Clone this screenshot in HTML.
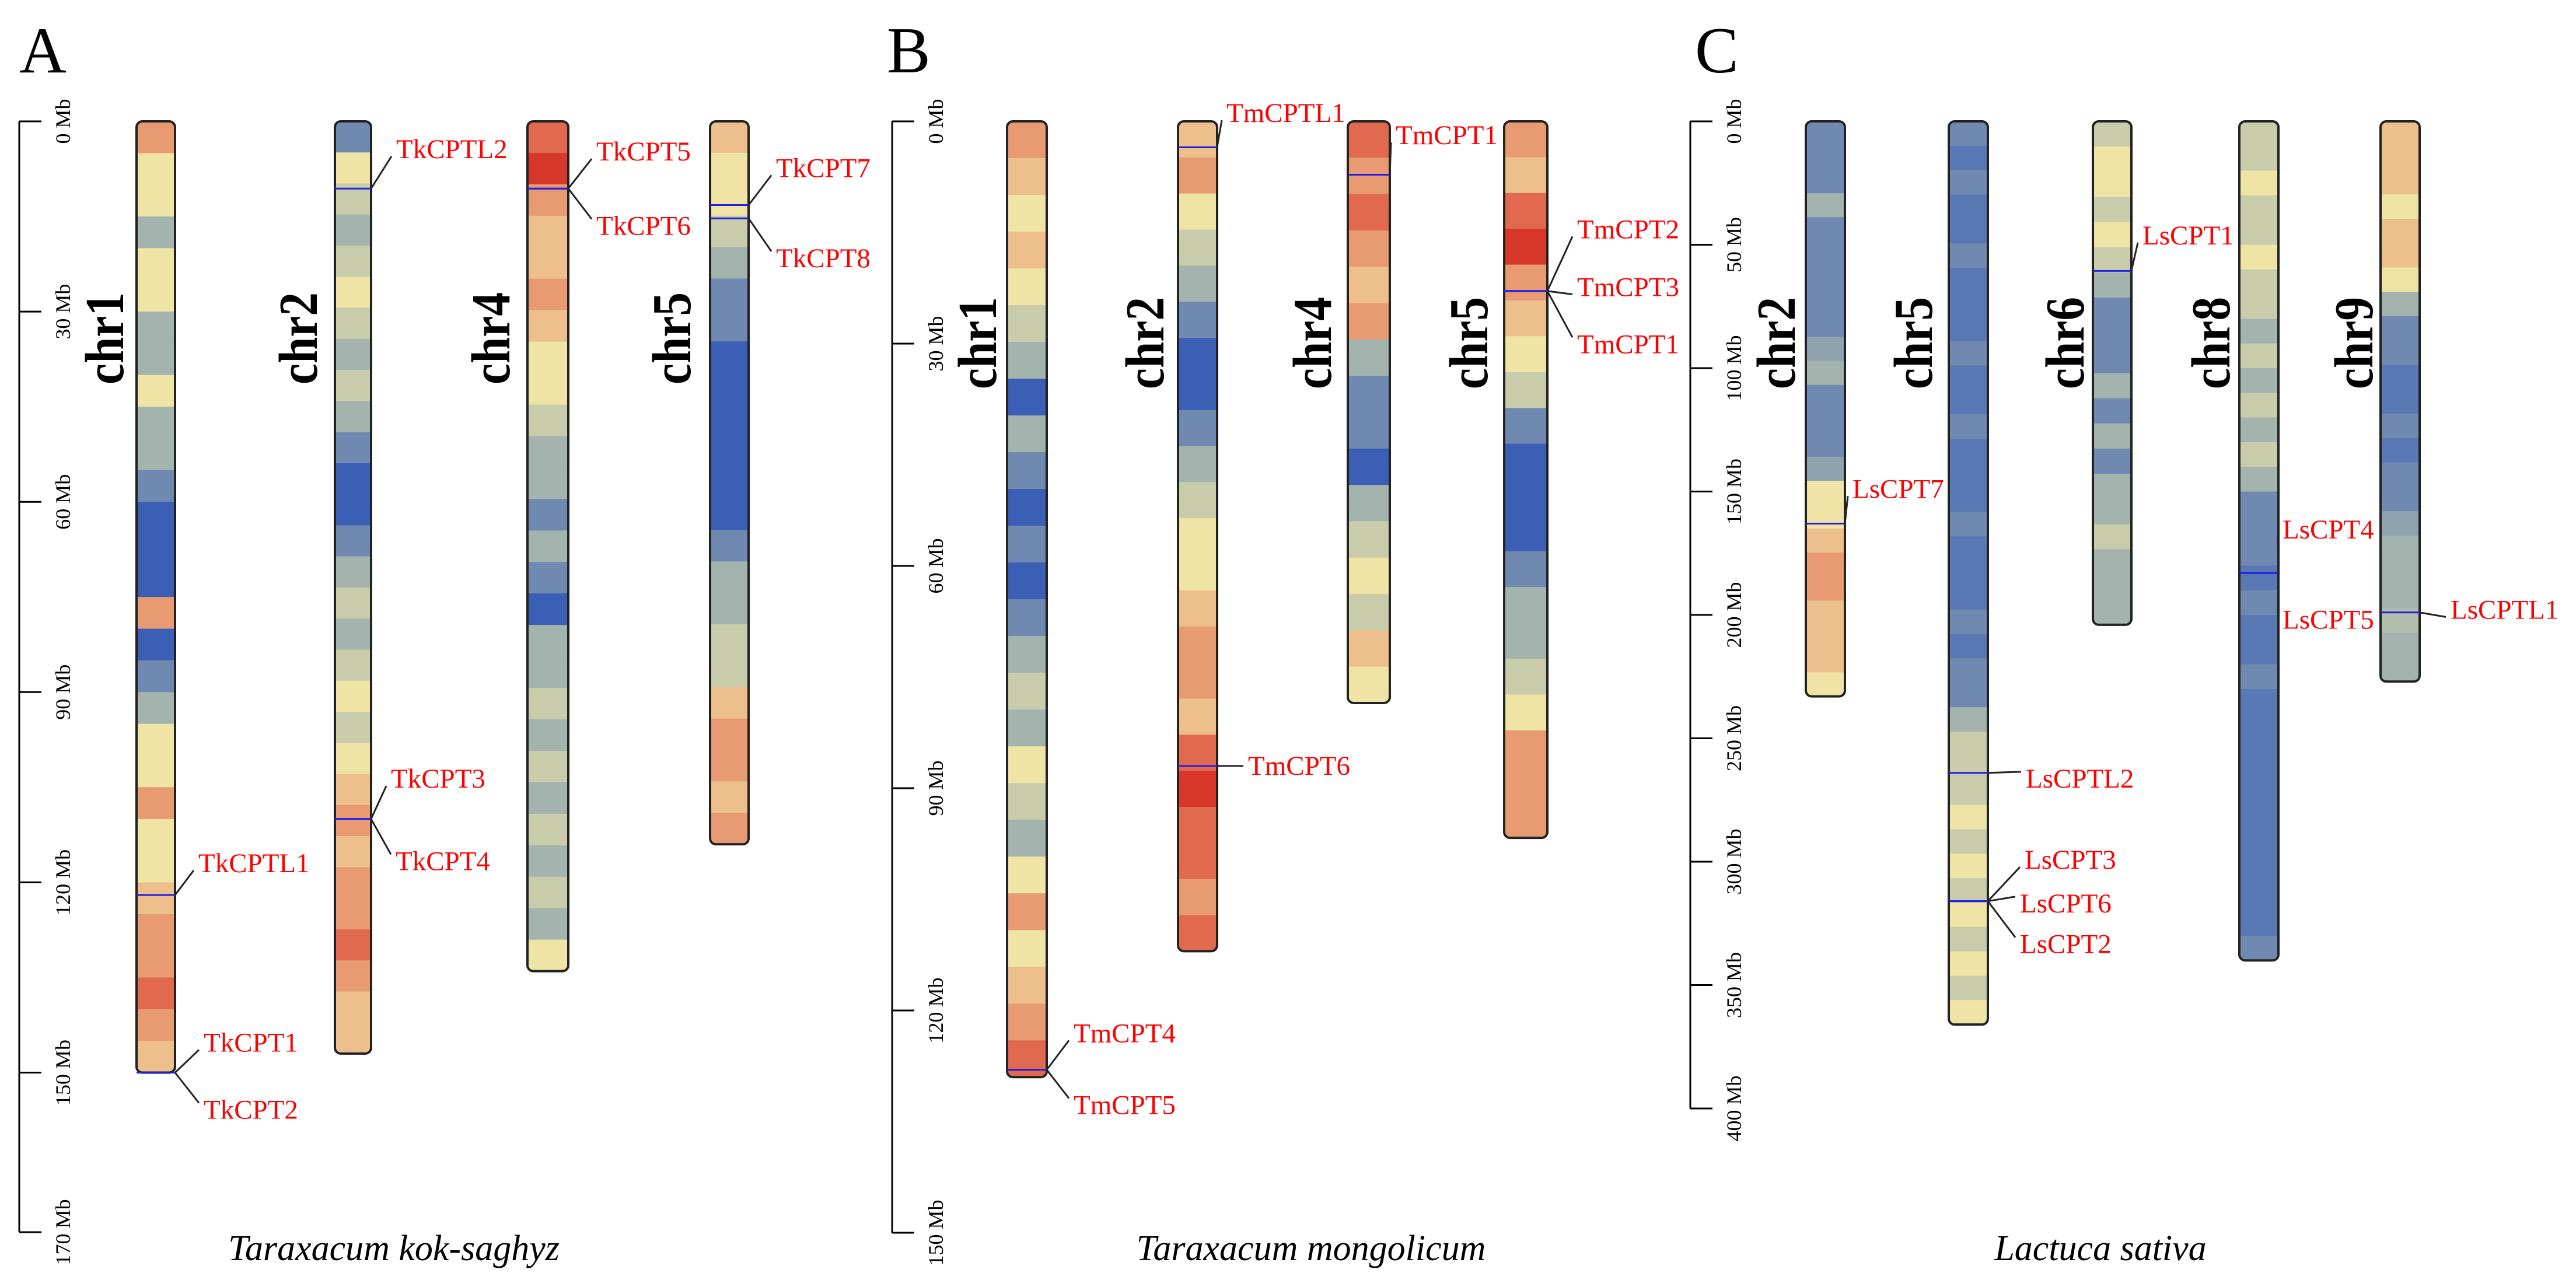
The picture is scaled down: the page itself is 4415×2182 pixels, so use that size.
<!DOCTYPE html>
<html><head><meta charset="utf-8"><style>
html,body{margin:0;padding:0;background:#fff;}
svg{display:block;font-family:"Liberation Serif",serif;}
</style></head><body>
<svg id="fig" width="4415" height="2182" viewBox="0 0 4415 2182" xmlns="http://www.w3.org/2000/svg"></svg>
<script>
// ---------- DATA ----------
const panelNames = ["A","B","C"];
const speciesNames = ["Taraxacum kok-saghyz","Taraxacum mongolicum","Lactuca sativa"];
const tickLabelsA = ["0 Mb","30 Mb","60 Mb","90 Mb","120 Mb","150 Mb","170 Mb"];
const tickValuesA = [0,30,60,90,120,150,170];
const tickLabelsB = ["0 Mb","30 Mb","60 Mb","90 Mb","120 Mb","150 Mb"];
const tickValuesB = [0,30,60,90,120,150];
const tickLabelsC = ["0 Mb","50 Mb","100 Mb","150 Mb","200 Mb","250 Mb","300 Mb","350 Mb","400 Mb"];
const tickValuesC = [0,50,100,150,200,250,300,350,400];

const chrNamesA = ["chr1","chr2","chr4","chr5"];
const chrLengthsA = [150,147,134,114];
const chrNamesB = ["chr1","chr2","chr4","chr5"];
const chrLengthsB = [129,112,78.5,96.7];
const chrNamesC = ["chr2","chr5","chr6","chr8","chr9"];
const chrLengthsC = [233,366,204,340,227];

// gene density (0 = low/blue ... 4 = high/red), equal bins along each chromosome
const densA_chr1 = [3,2,2,1,2,2,1,1,2,1,1,0.5,0,0,0,3,0,0.5,1,2,2,3,2,2,2.5,3,3,3.5,3,2.5];
const densA_chr2 = [0.5,2,1.5,1,1.5,2,1.5,1,1.5,1,0.5,0,0,0.5,1,1.5,1,1.5,2,1.5,2,2.5,3,2.5,3,3,3.5,3,2.5,2.5];
const densA_chr4 = [3.5,4,3,2.5,2.5,3,2.5,2,2,1.5,1,1,0.5,1,0.5,0,1,1,1.5,1,1.5,1,1.5,1,1.5,1,2];
const densA_chr5 = [2.5,2,2,1.5,1,0.5,0.5,0,0,0,0,0,0,0.5,1,1,1.5,1.5,2.5,3,3,2.5,3];
const densB_chr1 = [3,2.5,2,2.5,2,1.5,1,0,1,0.5,0,0.5,0,0.5,1,1.5,1,2,1.5,1,2,3,2,2.5,3,3.5];
const densB_chr2 = [2.5,3,2,1.5,1,0.5,0,0,0.5,1,1.5,2,2,2.5,3,3,2.5,3.5,4,3.5,3.5,3,3.5];
const densB_chr4 = [3.5,3,3.5,3,2.5,3,1,0.5,0.5,0,1,1.5,2,1.5,2.5,2];
const densB_chr5 = [3,2.5,3.5,4,3,2.5,2,1.5,0.5,0,0,0,0.5,1,1,1.5,2,3,3,3];
const densC_chr2 = [0.5,0.5,0.5,1,0.5,0.5,0.5,0.5,0.5,0.8,1,0.5,0.5,0.5,0.8,2,2,2.5,3,3,2.5,2.5,2.5,2];
const densC_chr5 = [0.5,0.3,0.5,0.3,0.3,0.5,0.3,0.3,0.3,0.5,0.3,0.3,0.5,0.3,0.3,0.3,0.5,0.3,0.3,0.3,0.5,0.3,0.5,0.5,1,1.5,1.5,1.5,2,1.5,2,1.5,2,1.5,2,1.5,2];
const densC_chr6 = [1.5,2,2,1.5,2,1.5,1,0.5,0.5,0.5,1,0.5,1,0.5,1,1,1.5,1,1,1];
const densC_chr8 = [1.5,1.5,2,1.5,1.5,2,1.5,1.5,1,1.5,1,1.5,1,1.5,1,0.5,0.5,0.5,0.3,0.5,0.3,0.3,0.5,0.3,0.3,0.3,0.3,0.3,0.3,0.3,0.3,0.3,0.3,0.5];
const densC_chr9 = [2.5,2.5,2.5,2,2.5,2.5,2,1,0.5,0.5,0.3,0.3,0.5,0.3,0.5,0.5,0.8,1,1,1,1.2,1,1];

// genes: chromosome index, position (Mb), label, label position (Mb)
const genesA_chr = [1,2,2,3,3,1,1,0,0,0];
const genesA_pos = [10.6,10.6,10.6,13.2,15.3,110,110,122,150,150];
const genesA_name = ["TkCPTL2","TkCPT5","TkCPT6","TkCPT7","TkCPT8","TkCPT3","TkCPT4","TkCPTL1","TkCPT1","TkCPT2"];
const genesA_lab = [4.4,4.8,16.5,7.4,21.6,103.7,116.7,117,145.3,155.9];
const genesB_chr = [1,2,3,3,3,1,0,0];
const genesB_pos = [3.5,7.2,22.9,22.9,22.9,87,128,128];
const genesB_name = ["TmCPTL1","TmCPT1","TmCPT2","TmCPT3","TmCPT1","TmCPT6","TmCPT4","TmCPT5"];
const genesB_lab = [-1.1,1.9,14.6,22.4,30.1,87,123.1,132.8];
const genesC_chr = [2,0,3,3,4,1,1,1,1];
const genesC_pos = [60.6,163,183,183,199,264,316,316,316];
const genesC_name = ["LsCPT1","LsCPT7","LsCPT4","LsCPT5","LsCPTL1","LsCPTL2","LsCPT3","LsCPT6","LsCPT2"];
const genesC_lab = [46.3,149,165.5,202,198,266.4,299.3,317,333.5];

// ---------- DRAW ----------
const svg = document.getElementById('fig');
const NS = 'http://www.w3.org/2000/svg';
function mk(tag, attrs, parent){const e=document.createElementNS(NS,tag);for(const k in attrs)e.setAttribute(k,attrs[k]);(parent||svg).appendChild(e);return e;}
const stops=[[58,95,181],[163,179,173],[239,228,166],[232,154,114],[216,55,44]];
function col(v){v=Math.max(0,Math.min(4,v));const i=Math.min(3,Math.floor(v)),t=v-i;const a=stops[i],b=stops[i+1];return 'rgb('+a.map((c,j)=>Math.round(c+(b[j]-c)*t)).join(',')+')';}

const panels=[
 {x0:33,top:208,ppm:10.87,tv:tickValuesA,tl:tickLabelsA,axisEnd:2112,names:chrNamesA,lens:chrLengthsA,dens:[densA_chr1,densA_chr2,densA_chr4,densA_chr5],
  cx:[234,574,904,1217],w:[66,62,70,66],lx:[180,512,842,1152],gc:genesA_chr,gp:genesA_pos,gn:genesA_name,gl:genesA_lab,glx:[679,1022,1022,1330,1330,670,678,340,349,349],
  letter:[33,124],spx:675},
 {x0:1529,top:208,ppm:12.7,tv:tickValuesB,tl:tickLabelsB,axisEnd:2112,names:chrNamesB,lens:chrLengthsB,dens:[densB_chr1,densB_chr2,densB_chr4,densB_chr5],
  cx:[1726,2019,2310,2578],w:[68,67,72,74],lx:[1676,1963,2250,2518],gc:genesB_chr,gp:genesB_pos,gn:genesB_name,gl:genesB_lab,glx:[2102,2392,2703,2703,2703,2139,1840,1840],
  letter:[1520,124],spx:2247},
 {x0:2897,top:208,ppm:4.23,tv:tickValuesC,tl:tickLabelsC,axisEnd:1901,names:chrNamesC,lens:chrLengthsC,dens:[densC_chr2,densC_chr5,densC_chr6,densC_chr8,densC_chr9],
  cx:[3095,3340,3587,3838,4080],w:[67,67,66,67,67],lx:[3045,3280,3540,3790,4035],gc:genesC_chr,gp:genesC_pos,gn:genesC_name,gl:genesC_lab,glx:[3672,3175,3912,3912,4200,3472,3470,3462,3462],
  letter:[2905,124],spx:3600}
];

panels.forEach((p,pi)=>{
  const g=mk('g',{});
  
  
  const Y=v=>p.top+v*p.ppm;
  const L=mk('text',{x:p.letter[0],y:p.letter[1],'font-size':112,fill:'#000'},g);L.textContent=panelNames[pi];
  
  
  const ax=mk('g',{},g);
  
  
  const last=p.tv.length-1;
  const ty=i=>i===last && pi===0 ? p.axisEnd : Y(p.tv[i]);
  mk('line',{x1:p.x0,x2:p.x0,y1:Y(0),y2:ty(last),stroke:'#000','stroke-width':3},ax);
  p.tv.forEach((v,i)=>{
    const y=ty(i);
    const tk=mk('line',{x1:p.x0,x2:p.x0+38,y1:y,y2:y,stroke:'#000','stroke-width':3},ax);
    
    
    const t=mk('text',{x:0,y:0,'font-size':36,'text-anchor':'middle','dominant-baseline':'central',transform:`translate(${p.x0+75},${y}) rotate(-90)`},ax);
    t.textContent=p.tl[i];
    
    
  });
  p.names.forEach((n,ci)=>{
    const cg=mk('g',{},g);
    
    
    const x=p.cx[ci],w=p.w[ci],len=p.lens[ci],d=p.dens[ci];
    const clipId='c'+pi+'_'+ci;
    const cp=mk('clipPath',{id:clipId},cg);
    mk('rect',{x:x,y:Y(0),width:w,height:len*p.ppm,rx:10},cp);
    const bg=mk('g',{'clip-path':`url(#${clipId})`},cg);
    const bs=len/d.length;
    d.forEach((v,bi)=>{
      const r=mk('rect',{x:x,y:Y(bi*bs),width:w,height:bs*p.ppm+1,fill:col(v)},bg);
      
      
    });
    mk('rect',{x:x,y:Y(0),width:w,height:len*p.ppm,rx:10,fill:'none',stroke:'#222','stroke-width':4},cg);
    const t=mk('text',{x:0,y:0,'font-size':94,'font-weight':'bold','text-anchor':'middle','dominant-baseline':'central',textLength:158,lengthAdjust:'spacingAndGlyphs',transform:`translate(${p.lx[ci]},${pi===0?580:588}) rotate(-90)`},cg);
    t.textContent=n;
    
    
  });
  p.gn.forEach((n,gi)=>{
    const ci=p.gc[gi];const x=p.cx[ci],w=p.w[ci];const y=Y(p.gp[gi]);
    const gg=mk('g',{},g);
    
    
    mk('line',{x1:x,x2:x+w,y1:y,y2:y,stroke:'#2020e0','stroke-width':3},gg);
    const lx=p.glx[gi],ly=Y(p.gl[gi]);
    mk('line',{x1:x+w,y1:y,x2:lx-8,y2:ly+ (Math.abs(ly-y)<4?0:(ly<y?12:-12)),stroke:'#222','stroke-width':3},gg);
    const t=mk('text',{x:lx,y:ly,'font-size':47,fill:'#ff0000','dominant-baseline':'central'},gg);
    t.textContent=n;
    
    
  });
  const s=mk('text',{x:p.spx,y:2160,'font-size':62,'font-style':'italic','text-anchor':'middle'},g);
  s.textContent=speciesNames[pi];
  
  
});
</script>
</body></html>
